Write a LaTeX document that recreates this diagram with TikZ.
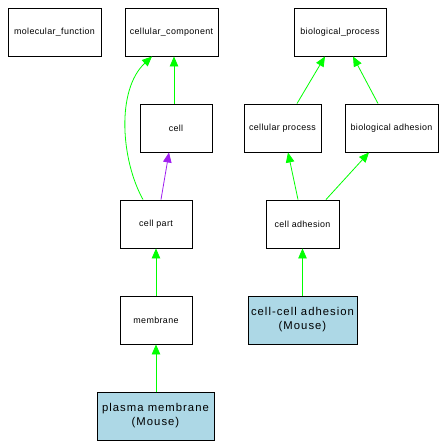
\documentclass[tikz,border=0pt]{standalone}
\usepackage{fontspec}
\setmainfont{Liberation Sans}
\newfontfamily\termfont[LetterSpace=4]{Liberation Sans}
\newfontfamily\mousefont[LetterSpace=9]{Liberation Sans}
\usetikzlibrary{arrows.meta}
\definecolor{lb}{RGB}{173,216,230}
\definecolor{eg}{RGB}{0,255,0}
\definecolor{ep}{RGB}{160,32,240}
\begin{document}
\begin{tikzpicture}[x=1pt,y=-1pt,
 term/.style={draw=black,line width=0.9pt,fill=white,inner sep=0pt,minimum height=48pt,font=\termfont\fontsize{8.9}{10}\selectfont,align=center},
 mouse/.style={term,fill=lb,font=\mousefont\fontsize{11.3}{14}\selectfont},
 isa/.style={draw=eg,line width=0.8pt,-{Triangle[length=10pt,width=8.5pt]}},
 partof/.style={draw=ep,line width=0.8pt,-{Triangle[length=10pt,width=8.5pt]}}]
\useasboundingbox[fill=white] (0,0) rectangle (446,447);
\node[term,minimum width=93pt] (mf) at (54.5,32) {molecular\_function};
\node[term,minimum width=93pt] (cc) at (171.5,32) {cellular\_component};
\node[term,minimum width=92pt] (bp) at (340,32) {biological\_process};
\node[term,minimum width=72pt] (cell) at (176,128) {cell};
\node[term,minimum width=77pt] (cp) at (282.5,128) {cellular process};
\node[term,minimum width=93pt] (ba) at (391.5,128) {biological adhesion};
\node[term,minimum width=72pt] (cellpart) at (156,224) {cell part};
\node[term,minimum width=73pt] (celladh) at (302.5,224) {cell adhesion};
\node[term,minimum width=72pt] (membrane) at (156,320) {membrane};
\node[mouse,minimum width=109pt] (ccadh) at (302.5,320) {cell-cell adhesion\\(Mouse)};
\node[mouse,minimum width=117pt] (plasma) at (155.5,416) {plasma membrane\\(Mouse)};
\draw[isa] ([xshift=-2pt]cell.north) -- ([xshift=2.5pt]cc.south);
\draw[partof] ([xshift=5pt]cellpart.north) -- ([xshift=-7pt]cell.south);
\draw[isa] ([xshift=-13pt]cellpart.north) .. controls (121,160) and (116,90) .. ([xshift=-19.5pt]cc.south);
\draw[isa] (membrane.north) -- (cellpart.south);
\draw[isa] ([xshift=0.5pt]plasma.north) -- (membrane.south);
\draw[isa] ([xshift=14.5pt]cp.north) -- ([xshift=-15pt]bp.south);
\draw[isa] ([xshift=-13.5pt]ba.north) -- ([xshift=13pt]bp.south);
\draw[isa] ([xshift=-4.5pt]celladh.north) -- ([xshift=5.5pt]cp.south);
\draw[isa] ([xshift=23.5pt]celladh.north) -- ([xshift=-22.5pt]ba.south);
\draw[isa] (ccadh.north) -- (celladh.south);
\end{tikzpicture}
\end{document}
